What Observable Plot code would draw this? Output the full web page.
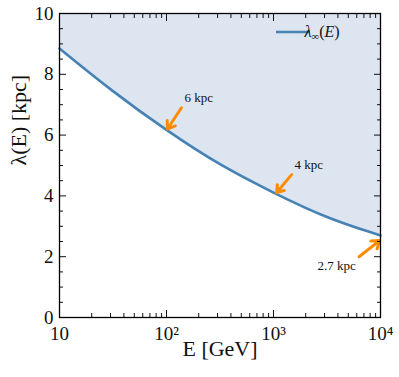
<!DOCTYPE html>
<html><head><meta charset="utf-8">
<script src="https://cdn.jsdelivr.net/npm/d3@7"></script>
<script src="https://cdn.jsdelivr.net/npm/@observablehq/plot@0.6"></script>
<style>body{margin:0;background:#fff} svg, svg text{font-family:"Liberation Serif",serif !important}</style>
</head><body><div id="chart"></div>
<script>
const energies = [10, 31.6, 100, 316, 1000, 3162, 10000];
const lambdaInf = [8.85, 7.42, 6.15, 5.0, 4.1, 3.26, 2.7];
const xMajorTicks = [10, 100, 1000, 10000];
const xTickLabels = ["10", "10²", "10³", "10⁴"];
const xMinorTicks = [20,30,40,50,60,70,80,90,200,300,400,500,600,700,800,900,2000,3000,4000,5000,6000,7000,8000,9000];
const yMajorTicks = [0, 2, 4, 6, 8, 10];
const yMinorTicks = [0.5,1,1.5,2.5,3,3.5,4.5,5,5.5,6.5,7,7.5,8.5,9,9.5];
const annotationLabels = ["6 kpc", "4 kpc", "2.7 kpc"];
const annotationTextE = [200, 2140, 3900];
const annotationTextL = [7.24, 5.03, 1.71];
const arrowTailE = [138, 1480, 6310];
const arrowTailL = [6.9, 4.7, 2.0];
const arrowHeadE = [102, 1070, 9800];
const arrowHeadL = [6.2, 4.11, 2.53];
const xLabel = "E [GeV]";
const yLabel = "λ(E) [kpc]";

const curve = energies.map((E, i) => ({E, L: lambdaInf[i]}));
const annotations = annotationLabels.map((t, i) => ({
  t, tx: annotationTextE[i], ty: annotationTextL[i],
  x1: arrowTailE[i], y1: arrowTailL[i], x2: arrowHeadE[i], y2: arrowHeadL[i]
}));
const blue = "#4682b4";

const chart = Plot.plot({
  width: 399, height: 377,
  marginTop: 13, marginRight: 19, marginBottom: 60, marginLeft: 59,
  style: {fontSize: "18px", background: "#fff", color: "#111"},
  x: {type: "log", domain: [10, 10000]},
  y: {domain: [0, 10]},
  marks: [
    Plot.areaY(curve, {x: "E", y1: "L", y2: 10, fill: "#dde5f1", curve: "basis"}),
    Plot.line(curve, {x: "E", y: "L", stroke: blue, strokeWidth: 2.6, curve: "basis"}),
    Plot.arrow(annotations, {x1: "x1", y1: "y1", x2: "x2", y2: "y2", stroke: "#ff8c00", strokeWidth: 3, headLength: 8, headAngle: 70}),
    Plot.text(annotations, {x: "tx", y: "ty", text: "t", fontSize: 13, fill: "#111"}),
    Plot.axisX(xMajorTicks, {anchor: "bottom", tickSize: -7, tickFormat: () => "", label: null}),
    Plot.axisX(xMinorTicks, {anchor: "bottom", tickSize: -4, tickFormat: () => "", label: null}),
    Plot.axisX(xMajorTicks, {anchor: "top", tickSize: -7, tickFormat: () => "", label: null}),
    Plot.axisX(xMinorTicks, {anchor: "top", tickSize: -4, tickFormat: () => "", label: null}),
    Plot.axisX(xMajorTicks, {anchor: "bottom", tickSize: 0, tickPadding: 9, fontSize: 19, tickFormat: d => xTickLabels[xMajorTicks.indexOf(d)], label: null}),
    Plot.axisY(yMajorTicks, {anchor: "left", tickSize: -7, tickFormat: () => "", label: null}),
    Plot.axisY(yMinorTicks, {anchor: "left", tickSize: -4, tickFormat: () => "", label: null}),
    Plot.axisY(yMajorTicks, {anchor: "right", tickSize: -7, tickFormat: () => "", label: null}),
    Plot.axisY(yMinorTicks, {anchor: "right", tickSize: -4, tickFormat: () => "", label: null}),
    Plot.axisY(yMajorTicks, {anchor: "left", tickSize: 0, tickPadding: 6, fontSize: 19, label: null}),
    Plot.frame({stroke: "#000", strokeWidth: 1.3}),
    Plot.text([xLabel], {frameAnchor: "bottom", dy: 38, fontSize: 22, fill: "#111"}),
    Plot.text([yLabel], {frameAnchor: "left", dx: -41, rotate: -90, fontSize: 22, fill: "#111"})
  ]
});
document.getElementById("chart").appendChild(chart);

const svg = d3.select(chart);
svg.append("line").attr("x1", 276).attr("x2", 310).attr("y1", 32).attr("y2", 32)
  .attr("stroke", blue).attr("stroke-width", 2.6);
const lt = svg.append("text").attr("x", 322).attr("y", 37)
  .attr("font-size", 16).attr("fill", "#111").attr("font-style", "italic");
lt.append("tspan").text("λ");
lt.append("tspan").attr("font-size", 11).attr("dy", 3).attr("font-style", "normal").text("∞");
lt.append("tspan").attr("dy", -3).attr("font-style", "normal").text("(");
lt.append("tspan").text("E");
lt.append("tspan").attr("font-style", "normal").text(")");
</script>
</body></html>
